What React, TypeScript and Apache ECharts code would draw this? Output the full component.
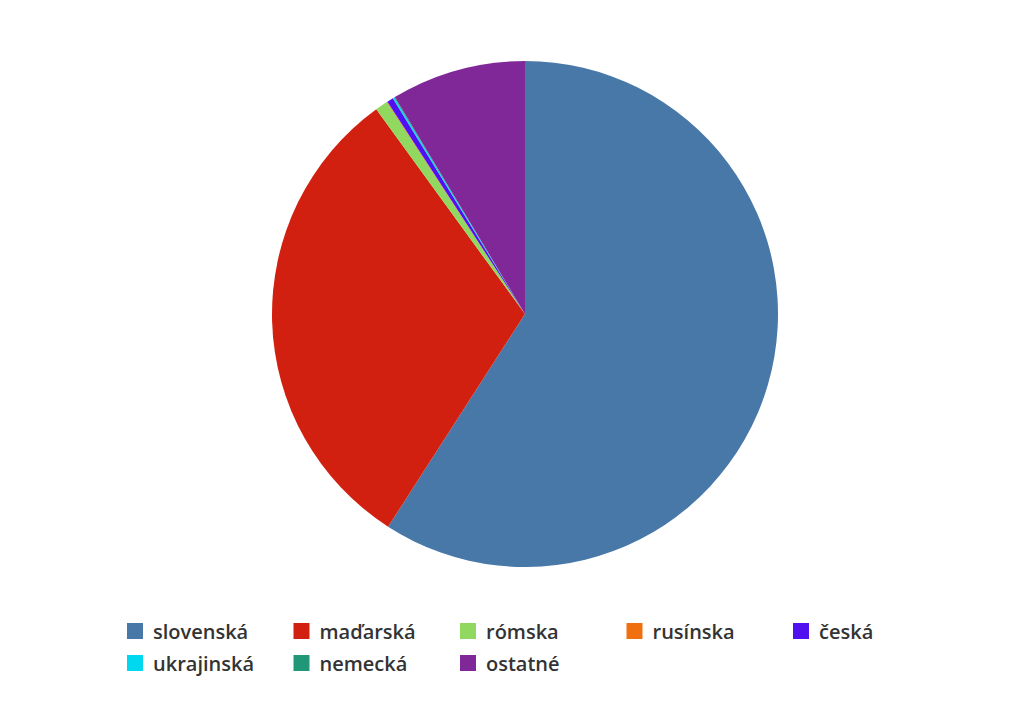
import React, { useEffect, useRef } from "react";
import * as echarts from "echarts";

const categories = ["slovenská", "maďarská", "rómska", "rusínska", "česká", "ukrajinská", "nemecká", "ostatné"];
const values = [59.1, 30.9, 0.8, 0.05, 0.4, 0.1, 0.05, 8.6];
const colors = ["#4878a8", "#d12010", "#90d860", "#f07010", "#5010f0", "#00d8f0", "#209878", "#802898"];

const colX = [119, 285.5, 452, 618.5, 785];
const rowY = [613, 645];

export default function App() {
  const ref = useRef<HTMLDivElement>(null);
  useEffect(() => {
    const chart = echarts.init(ref.current!, null, { renderer: "svg" });
    const legends = categories.map((c, i) => ({
      left: colX[i % 5],
      top: rowY[Math.floor(i / 5)],
      padding: 0,
      itemWidth: 16,
      itemHeight: 16,
      icon: "rect",
      textStyle: {
        fontFamily: "Open Sans",
        fontSize: 20,
        fontWeight: 600,
        color: "#333",
        padding: [0, 0, 0, 5],
      },
      data: [c],
    }));
    chart.setOption({
      animation: false,
      color: colors,
      legend: legends,
      series: [
        {
          type: "pie",
          center: [517, 306],
          radius: 253,
          startAngle: 90,
          clockwise: true,
          label: { show: false },
          labelLine: { show: false },
          itemStyle: { borderWidth: 0 },
          data: categories.map((c, i) => ({ name: c, value: values[i] })),
        },
      ],
    });
    return () => chart.dispose();
  }, []);
  return <div ref={ref} style={{ width: 1008, height: 695 }} />;
}
